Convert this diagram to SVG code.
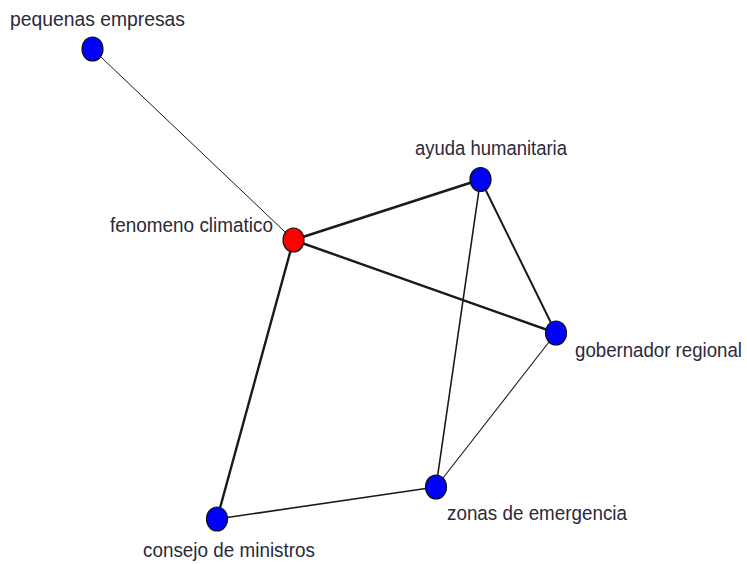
<svg xmlns="http://www.w3.org/2000/svg" width="747" height="564" viewBox="0 0 747 564">
  <style>
    .edge { stroke: #1a1a1a; fill: none; stroke-linecap: round; }
    .node { stroke: #111; stroke-width: 1.2; }
    .blue { fill: #0000ff; }
    .red { fill: #ff0000; }
    .label { font-family: "Liberation Sans", Arial, sans-serif; font-size: 20.5px; fill: #2a2a3a; }
  </style>
  <rect width="747" height="564" fill="#ffffff"/>
  <g id="edges">
    <line class="edge" x1="92.5" y1="49" x2="293.5" y2="240" stroke-width="1" stroke="#444"/>
    <line class="edge" x1="293.5" y1="240" x2="480.5" y2="179.5" stroke-width="2.6"/>
    <line class="edge" x1="293.5" y1="240" x2="556" y2="333" stroke-width="2.4"/>
    <line class="edge" x1="293.5" y1="240" x2="217" y2="519" stroke-width="2.4"/>
    <line class="edge" x1="480.5" y1="179.5" x2="556" y2="333" stroke-width="2"/>
    <line class="edge" x1="480.5" y1="179.5" x2="436" y2="487" stroke-width="1.6"/>
    <line class="edge" x1="556" y1="333" x2="436" y2="487" stroke-width="1.1"/>
    <line class="edge" x1="217" y1="519" x2="436" y2="487" stroke-width="1.6"/>
  </g>
  <g id="pequenas-empresas">
    <ellipse class="node blue" cx="92.5" cy="49" rx="10.5" ry="12"/>
    <text class="label" x="10" y="26" textLength="175" lengthAdjust="spacingAndGlyphs">pequenas empresas</text>
  </g>
  <g id="fenomeno-climatico">
    <ellipse class="node red" cx="293.5" cy="240" rx="10.5" ry="12"/>
    <text class="label" x="110" y="232" textLength="163" lengthAdjust="spacingAndGlyphs">fenomeno climatico</text>
  </g>
  <g id="ayuda-humanitaria">
    <ellipse class="node blue" cx="480.5" cy="179.5" rx="10.5" ry="12"/>
    <text class="label" x="415" y="155" textLength="152" lengthAdjust="spacingAndGlyphs">ayuda humanitaria</text>
  </g>
  <g id="gobernador-regional">
    <ellipse class="node blue" cx="556" cy="333" rx="10.5" ry="12"/>
    <text class="label" x="575" y="357" textLength="167" lengthAdjust="spacingAndGlyphs">gobernador regional</text>
  </g>
  <g id="zonas-de-emergencia">
    <ellipse class="node blue" cx="436" cy="487" rx="10.5" ry="12"/>
    <text class="label" x="447" y="520" textLength="180" lengthAdjust="spacingAndGlyphs">zonas de emergencia</text>
  </g>
  <g id="consejo-de-ministros">
    <ellipse class="node blue" cx="217" cy="519" rx="10.5" ry="12"/>
    <text class="label" x="143" y="557" textLength="172" lengthAdjust="spacingAndGlyphs">consejo de ministros</text>
  </g>
</svg>
